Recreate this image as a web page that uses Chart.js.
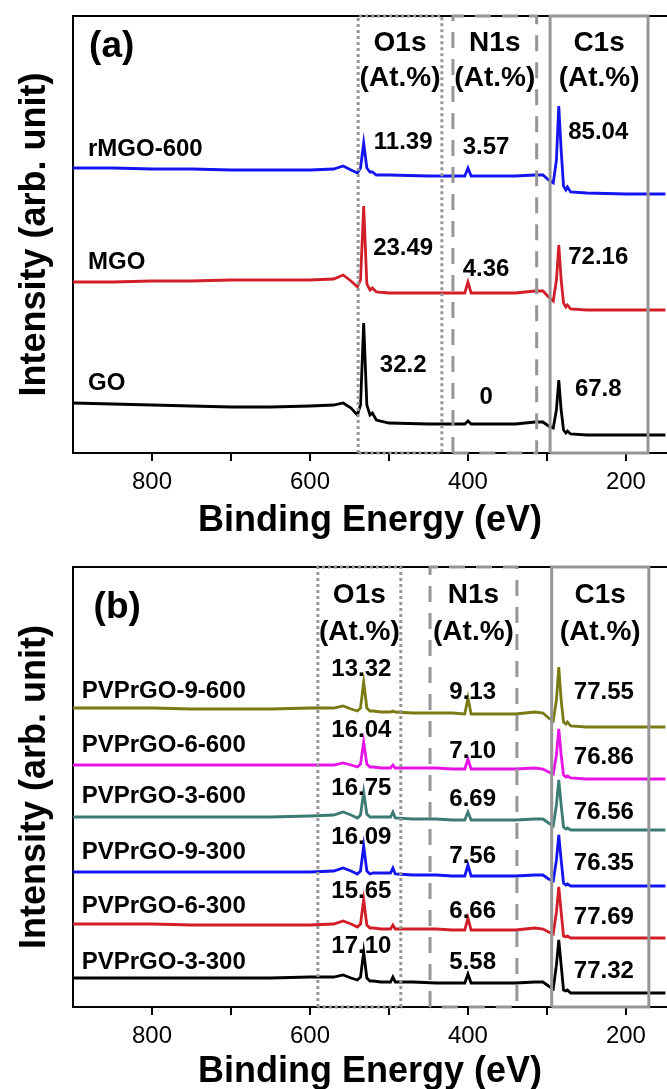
<!DOCTYPE html>
<html>
<head>
<meta charset="utf-8">
<script src="https://cdn.jsdelivr.net/npm/chart.js@4.4.1/dist/chart.umd.min.js"></script>
<style>
	html, body { margin: 0; padding: 0; background: #fff; overflow: hidden; }
	#wrap { position: relative; width: 667px; height: 1089px; overflow: hidden; }
	canvas { position: absolute; left: 0; }
	#chartA { top: 0; }
	#chartB { top: 551px; }
</style>
</head>
<body>
<div id="wrap">
	<canvas id="chartA" width="667" height="551"></canvas>
	<canvas id="chartB" width="667" height="551"></canvas>
</div>
<script>
var FONT = "'Liberation Sans', Arial, sans-serif"

// x axis
var xTicks = [800, 700, 600, 500, 400, 300, 200]
var xLabels = [800, 600, 400, 200]

// ---- panel (a) ----
var energyA = [900, 850, 800, 750, 700, 650, 600, 570, 558, 548, 540, 536, 532, 528, 524, 521, 516, 500, 450, 420, 404, 400, 396, 370, 340, 315, 305, 298, 292, 288, 285, 282, 279, 276, 274, 270, 250, 200, 150]
var rMGO600 = [285, 285, 284, 284, 283, 283, 283, 284, 287, 283, 280, 285, 310, 285, 281, 281, 278, 278, 277, 277, 277, 285, 277, 277, 277, 278, 278, 273, 270, 293, 347, 303, 267, 263, 266, 261, 260, 259, 259]
var MGO = [171, 171, 172, 172, 173, 173, 173, 174, 178, 172, 166, 173, 247, 169, 163, 165, 161, 160, 160, 160, 160, 171, 160, 160, 160, 162, 162, 156, 152, 173, 208, 173, 150, 146, 148, 144, 143, 143, 143]
var GO = [50, 49, 48, 47, 46, 46, 47, 48, 50, 45, 38, 48, 130, 48, 38, 40, 33, 30, 29, 29, 29, 32, 29, 29, 29, 31, 31, 27, 25, 43, 73, 43, 23, 20, 22, 19, 18, 18, 18]

var samplesA = ["rMGO-600", "MGO", "GO"]
var o1sA = ["11.39", "23.49", "32.2"]
var n1sA = ["3.57", "4.36", "0"]
var c1sA = ["85.04", "72.16", "67.8"]

// energy windows of the O1s / N1s / C1s boxes
var boxO_A = [539, 433]
var boxN_A = [419, 313]
var boxC_A = [296, 172]

// ---- panel (b) ----
var energyB = [900, 850, 800, 750, 700, 650, 600, 570, 558, 548, 540, 536, 532, 528, 524, 520, 510, 498, 495, 492, 470, 440, 420, 404, 400, 396, 370, 340, 315, 305, 298, 292, 288, 285, 282, 279, 276, 274, 270, 250, 200, 150]
var pvp9_600 = [299, 299, 299, 298, 298, 298, 299, 299, 301, 298, 296, 299, 325, 299, 296, 296, 295, 295, 296, 295, 294, 294, 294, 293, 309, 293, 293, 293, 295, 294, 289, 286, 307, 340, 307, 285, 283, 285, 281, 280, 280, 280]
var pvp6_600 = [242, 242, 242, 242, 242, 242, 242, 242, 244, 242, 240, 243, 265, 243, 240, 240, 239, 239, 242, 239, 239, 239, 238, 238, 248, 238, 238, 238, 239, 238, 235, 233, 252, 278, 252, 232, 230, 231, 229, 228, 228, 228]
var pvp3_600 = [190, 190, 190, 190, 190, 190, 191, 192, 195, 192, 189, 192, 215, 193, 190, 190, 190, 190, 195, 189, 188, 188, 187, 187, 195, 187, 187, 187, 188, 188, 184, 181, 202, 227, 202, 180, 178, 179, 177, 177, 177, 177]
var pvp9_300 = [135, 135, 135, 135, 135, 135, 135, 136, 139, 136, 133, 136, 161, 136, 133, 134, 134, 134, 139, 133, 132, 132, 131, 131, 142, 131, 131, 131, 132, 132, 128, 126, 147, 172, 147, 124, 122, 123, 121, 121, 121, 121]
var pvp6_300 = [83, 83, 83, 82, 82, 82, 82, 83, 86, 83, 80, 83, 107, 82, 79, 79, 78, 78, 82, 78, 78, 78, 77, 77, 89, 77, 77, 77, 79, 78, 75, 73, 95, 120, 95, 71, 70, 71, 69, 69, 69, 69]
var pvp3_300 = [29, 29, 29, 29, 29, 29, 30, 30, 32, 29, 27, 30, 55, 29, 26, 26, 25, 25, 30, 25, 25, 24, 24, 24, 33, 24, 24, 24, 25, 25, 21, 18, 42, 67, 42, 17, 16, 17, 14, 14, 14, 14]

var samplesB = ["PVPrGO-9-600", "PVPrGO-6-600", "PVPrGO-3-600", "PVPrGO-9-300", "PVPrGO-6-300", "PVPrGO-3-300"]
var o1sB = ["13.32", "16.04", "16.75", "16.09", "15.65", "17.10"]
var n1sB = ["9.13", "7.10", "6.69", "7.56", "6.66", "5.58"]
var c1sB = ["77.55", "76.86", "76.56", "76.35", "77.69", "77.32"]

var boxO_B = [590, 485]
var boxN_B = [448, 338]
var boxC_B = [294, 171]

// where the texts sit (energy for x, intensity for y)
var textXA = {name: 881, o: 482, n: 377, c: 235}
var textRowsA = {name: [304, 191, 70], o: [311, 205, 88], n: [306, 184, 56], c: [321, 196, 64], head1: 410, head2: 375}
var textXB = {name: 889, o: 535, n: 394, c: 228}
var textRowsB = {name: [316, 262, 211, 155, 101, 45], o: [338, 277, 219, 170, 116, 61], n: [315, 256, 208, 151, 96, 45], c: [315, 250, 195, 144, 90, 36], head1: 412, head2: 375}

var GREY = "rgb(150, 150, 150)"

function pts(xs, ys) {
	return xs.map(function(e, i) { return {x: e, y: ys[i]} })
}

function boxSet(win, top, dash) {
	return {
		data: [{x: win[0], y: 0}, {x: win[0], y: top}, {x: win[1], y: top}, {x: win[1], y: 0}, {x: win[0], y: 0}],
		borderColor: GREY, borderWidth: 3, borderDash: dash, pointRadius: 0, fill: false, clip: false, borderCapStyle: "butt"
	}
}

function traceSet(xs, ys, color) {
	return {data: pts(xs, ys), borderColor: color, borderWidth: 2.8, pointRadius: 0, fill: false, tension: 0}
}

var textPlugin = {
	id: "texts",
	afterDraw: function(chart, args, opts) {
		var ctx = chart.ctx, x = chart.scales.x, y = chart.scales.y
		ctx.save()
		ctx.fillStyle = "#000"
		ctx.textBaseline = "middle"
		opts.items.forEach(function(t) {
			ctx.font = "bold " + t.size + "px " + FONT
			ctx.textAlign = t.align || "center"
			ctx.fillText(t.text, x.getPixelForValue(t.e), y.getPixelForValue(t.i))
		})
		ctx.restore()
	}
}

function textItems(tag, tagPos, samples, o, n, c, tx, rows, boxes) {
	var items = [{text: tag, e: tagPos[0], i: tagPos[1], size: 37}]
	var heads = ["O1s", "N1s", "C1s"]
	boxes.forEach(function(b, k) {
		var mid = (b[0] + b[1]) / 2
		items.push({text: heads[k], e: mid, i: rows.head1, size: 28})
		items.push({text: "(At.%)", e: mid, i: rows.head2, size: 28})
	})
	samples.forEach(function(s, k) {
		items.push({text: s, e: tx.name, i: rows.name[k], size: 24, align: "left"})
		items.push({text: o[k], e: tx.o, i: rows.o[k], size: 24})
		items.push({text: n[k], e: tx.n, i: rows.n[k], size: 24})
		items.push({text: c[k], e: tx.c, i: rows.c[k], size: 24})
	})
	return items
}

function makeChart(id, datasets, items, yMax, xAxisHeight) {
	var titleFont = {family: FONT, size: 36, weight: "bold", lineHeight: 1.2}
	return new Chart(document.getElementById(id).getContext("2d"), {
		type: "line",
		data: {datasets: datasets},
		options: {
			responsive: false,
			animation: false,
			layout: {padding: {top: 16, left: 0, right: 0, bottom: 0}},
			plugins: {legend: {display: false}, tooltip: {enabled: false}, texts: {items: items}},
			scales: {
				x: {
					type: "linear", reverse: true, min: 148, max: 900,
					afterBuildTicks: function(s) { s.ticks = xTicks.map(function(v) { return {value: v} }) },
					afterFit: function(s) { s.height = xAxisHeight },
					grid: {display: true, drawOnChartArea: false, drawTicks: true, tickLength: 8, color: "#000", lineWidth: 2},
					border: {display: true, color: "#000", width: 2},
					ticks: {
						color: "#000", font: {family: FONT, size: 24}, padding: 7, maxRotation: 0, autoSkip: false,
						callback: function(v) { return xLabels.indexOf(v) >= 0 ? String(v) : "" }
					},
					title: {display: true, text: "Binding Energy (eV)", color: "#000", font: titleFont, padding: {top: 0, bottom: 8}}
				},
				x2: {
					type: "linear", position: "top", reverse: true, min: 148, max: 900,
					afterFit: function(s) { s.height = 0 },
					grid: {display: false}, ticks: {display: false},
					border: {display: true, color: "#000", width: 2}
				},
				y: {
					min: 0, max: yMax,
					afterFit: function(s) { s.width = 73 },
					grid: {display: false}, ticks: {display: false},
					border: {display: true, color: "#000", width: 2},
					title: {display: true, text: "Intensity (arb. unit)", color: "#000", font: titleFont, padding: {top: 13, bottom: 0}}
				}
			}
		},
		plugins: [textPlugin]
	})
}

var yMaxA = 437
var chartA = makeChart("chartA", [
	boxSet(boxC_A, yMaxA, []),
	boxSet(boxN_A, yMaxA, [16, 11]),
	boxSet(boxO_A, yMaxA, [3, 3]),
	traceSet(energyA, rMGO600, "rgb(20, 20, 240)"),
	traceSet(energyA, MGO, "rgb(210, 30, 40)"),
	traceSet(energyA, GO, "#000")
], textItems("(a)", [851, 406], samplesA, o1sA, n1sA, c1sA, textXA, textRowsA, [boxO_A, boxN_A, boxC_A]), yMaxA, 98)

var yMaxB = 440
var chartB = makeChart("chartB", [
	boxSet(boxC_B, yMaxB, []),
	boxSet(boxN_B, yMaxB, [16, 11]),
	boxSet(boxO_B, yMaxB, [3, 3]),
	traceSet(energyB, pvp9_600, "rgb(122, 122, 20)"),
	traceSet(energyB, pvp6_600, "rgb(230, 20, 230)"),
	traceSet(energyB, pvp3_600, "rgb(60, 122, 116)"),
	traceSet(energyB, pvp9_300, "rgb(20, 20, 240)"),
	traceSet(energyB, pvp6_300, "rgb(210, 30, 40)"),
	traceSet(energyB, pvp3_300, "#000")
], textItems("(b)", [844, 399], samplesB, o1sB, n1sB, c1sB, textXB, textRowsB, [boxO_B, boxN_B, boxC_B]), yMaxB, 95)
</script>
</body>
</html>
